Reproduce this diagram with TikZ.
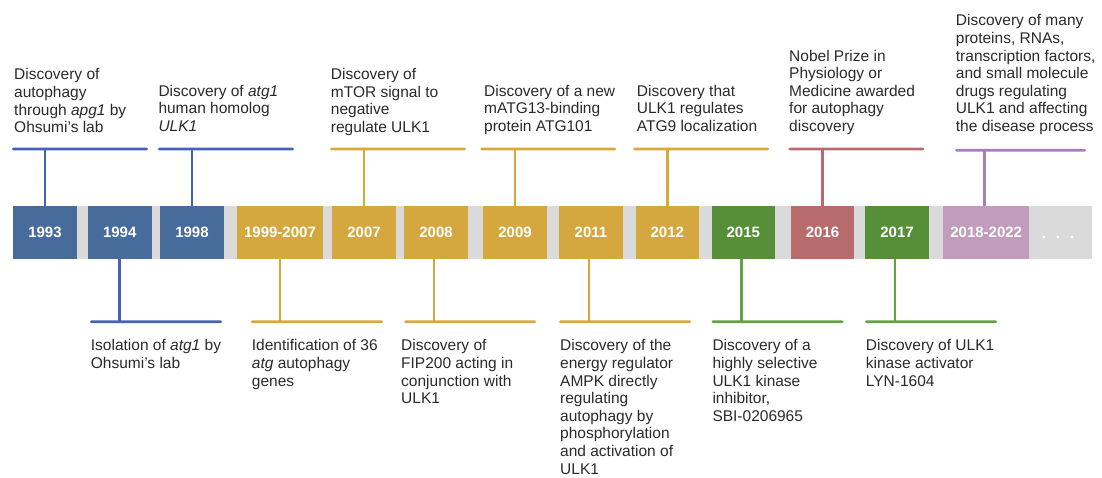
\documentclass[tikz,border=0pt]{standalone}
\usepackage{fontspec}
\setmainfont{Liberation Sans}
\definecolor{blueyr}{HTML}{476B9B}
\definecolor{blueln}{HTML}{4563B6}
\definecolor{goldyr}{HTML}{D4A83F}
\definecolor{goldln}{HTML}{D8A83C}
\definecolor{greenyr}{HTML}{578F39}
\definecolor{greenln}{HTML}{64A243}
\definecolor{redyr}{HTML}{B86D6C}
\definecolor{redln}{HTML}{BA6970}
\definecolor{purpleyr}{HTML}{C19CBC}
\definecolor{purpleln}{HTML}{A67EBC}
\definecolor{railgray}{HTML}{DADADA}
\definecolor{notetext}{HTML}{2A2A2A}

\begin{document}
\begin{tikzpicture}[x=1pt,y=-1pt,
  yr/.style={fill=#1, minimum height=53.4pt, inner sep=0pt, text=white,
    font=\fontsize{15}{18}\selectfont\bfseries, text height=10.8pt, text depth=0pt},
  bar/.style={fill=#1, minimum width=136pt, minimum height=2.7pt, inner sep=0pt, rounded corners=1.3pt},
  stem/.style={draw=#1, line width=2.7pt},
  note/.style={inner sep=0pt, align=left, text=notetext,
    font=\fontsize{15.5}{17.6}\selectfont},
  upnote/.style={note, anchor=south west, text depth=0pt},
  downnote/.style={note, anchor=north west}]
\useasboundingbox (0,0) rectangle (1102,477);

\fill[railgray] (12.7,205.7) rectangle (1091.7,259);

\node[yr=blueyr, minimum width=64.6pt] (y1993) at (45,232.4) {1993};
\node[yr=blueyr, minimum width=64pt] (y1994) at (119.7,232.4) {1994};
\node[yr=blueyr, minimum width=64pt] (y1998) at (192,232.4) {1998};
\node[yr=goldyr, minimum width=85.4pt] (y1999) at (280,232.4) {1999-2007};
\node[yr=goldyr, minimum width=63.4pt] (y2007) at (364,232.4) {2007};
\node[yr=goldyr, minimum width=63.4pt] (y2008) at (436,232.4) {2008};
\node[yr=goldyr, minimum width=63.4pt] (y2009) at (515,232.4) {2009};
\node[yr=goldyr, minimum width=64pt] (y2011) at (591,232.4) {2011};
\node[yr=goldyr, minimum width=63.3pt] (y2012) at (667.3,232.4) {2012};
\node[yr=greenyr, minimum width=63.3pt] (y2015) at (743.3,232.4) {2015};
\node[yr=redyr, minimum width=63.6pt] (y2016) at (822.5,232.4) {2016};
\node[yr=greenyr, minimum width=64pt] (y2017) at (897,232.4) {2017};
\node[yr=purpleyr, minimum width=85.7pt] (y2018) at (986.2,232.4) {2018-2022};
\node[anchor=base, text=white, font=\fontsize{15}{18}\selectfont\bfseries] (more) at (1058,238.3) {.\hskip 10pt.\hskip 10pt.};

\node[bar=blueln] (b1993) at (80,149) {};
\node[bar=blueln] (b1998) at (226,149) {};
\node[bar=goldln] (b2007) at (398,149) {};
\node[bar=goldln] (b2009) at (548.4,149) {};
\node[bar=goldln] (b2012) at (701.2,149) {};
\node[bar=redln] (b2016) at (856.3,149) {};
\node[bar=purpleln, minimum width=131pt] (b2018) at (1020.5,150.3) {};
\node[bar=blueln, minimum width=132pt] (b1994) at (156,321.7) {};
\node[bar=goldln, minimum width=132pt] (b1999) at (317,321.7) {};
\node[bar=goldln, minimum width=132pt] (b2008) at (470.2,321.7) {};
\node[bar=goldln, minimum width=132pt] (b2011) at (625,321.7) {};
\node[bar=greenln, minimum width=132pt] (b2015) at (777.5,321.7) {};
\node[bar=greenln, minimum width=132pt] (b2017) at (931,321.7) {};

\draw[stem=blueln] (y1993.north) -- (y1993.north |- b1993.center);
\draw[stem=blueln] (y1998.north) -- (y1998.north |- b1998.center);
\draw[stem=goldln] (y2007.north) -- (y2007.north |- b2007.center);
\draw[stem=goldln] (y2009.north) -- (y2009.north |- b2009.center);
\draw[stem=goldln] (y2012.north) -- (y2012.north |- b2012.center);
\draw[stem=redln] (y2016.north) -- (y2016.north |- b2016.center);
\draw[stem=purpleln] ([xshift=-2pt]y2018.north) -- ([xshift=-2pt]y2018.north |- b2018.center);
\draw[stem=blueln] (y1994.south) -- (y1994.south |- b1994.center);
\draw[stem=goldln] (y1999.south) -- (y1999.south |- b1999.center);
\draw[stem=goldln] ([xshift=-2pt]y2008.south) -- ([xshift=-2pt]y2008.south |- b2008.center);
\draw[stem=goldln] ([xshift=-2pt]y2011.south) -- ([xshift=-2pt]y2011.south |- b2011.center);
\draw[stem=greenln] ([xshift=-2pt]y2015.south) -- ([xshift=-2pt]y2015.south |- b2015.center);
\draw[stem=greenln] ([xshift=-2pt]y2017.south) -- ([xshift=-2pt]y2017.south |- b2017.center);

\node[upnote] (n1993) at (14,132.8) {Discovery of\\autophagy\\through \textit{apg1} by\\Ohsumi's lab};
\node[upnote] (n1998) at (158.3,131.5) {Discovery of \textit{atg1}\\human homolog\\\textit{ULK1}};
\node[upnote] (n2007) at (330.7,132.5) {Discovery of\\mTOR signal to\\negative\\regulate ULK1};
\node[upnote] (n2009) at (484,131.5) {Discovery of a new\\mATG13-binding\\protein ATG101};
\node[upnote] (n2012) at (636.7,131.5) {Discovery that\\ULK1 regulates\\ATG9 localization};
\node[upnote] (n2016) at (789,131.7) {Nobel Prize in\\Physiology or\\Medicine awarded\\for autophagy\\discovery};
\node[upnote] (n2018) at (955.7,131.7) {Discovery of many\\proteins, RNAs,\\transcription factors,\\and small molecule\\drugs regulating\\ULK1 and affecting\\the disease process};

\node[downnote] (n1994) at (90.7,339.4) {Isolation of \textit{atg1} by\\Ohsumi's lab};
\node[downnote] (n1999) at (251.7,339.4) {Identification of 36\\\textit{atg} autophagy\\genes};
\node[downnote] (n2008) at (401,339.4) {Discovery of\\FIP200 acting in\\conjunction with\\ULK1};
\node[downnote] (n2011) at (560,339.4) {Discovery of the\\energy regulator\\AMPK directly\\regulating\\autophagy by\\phosphorylation\\and activation of\\ULK1};
\node[downnote] (n2015) at (712.3,339.4) {Discovery of a\\highly selective\\ULK1 kinase\\inhibitor,\\SBI-0206965};
\node[downnote] (n2017) at (865.7,339.4) {Discovery of ULK1\\kinase activator\\LYN-1604};
\end{tikzpicture}
\end{document}
